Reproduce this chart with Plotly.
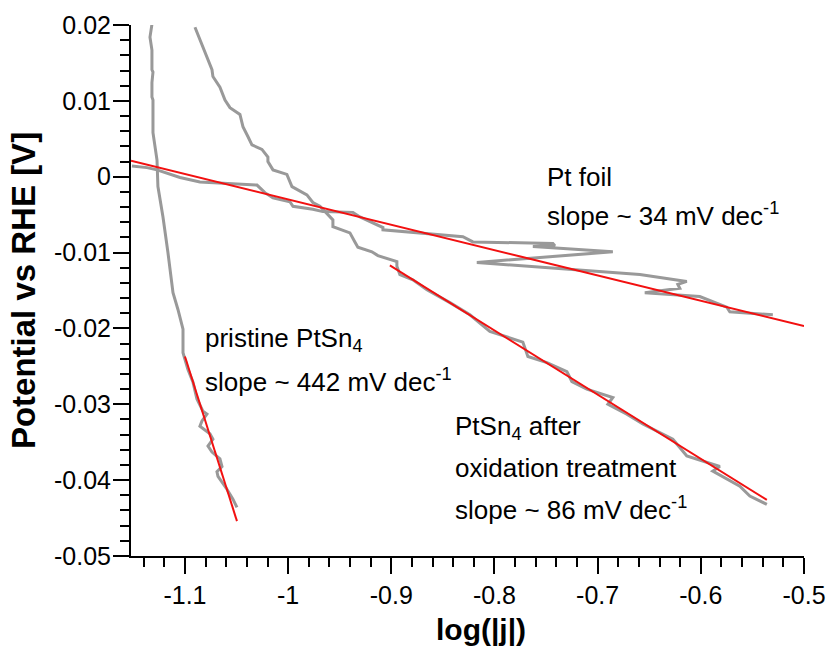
import plotly.graph_objects as go

# ---- data ----
pristine_x = [-1.1320, -1.1339, -1.1320, -1.1320, -1.1310, -1.1320, -1.1320, -1.1310, -1.1310, -1.1271,
              -1.1262, -1.1213, -1.1165, -1.1116, -1.1068, -1.1019, -1.1019, -1.0971, -1.0922, -1.0884,
              -1.0826, -1.0787, -1.0835, -1.0855, -1.0758, -1.0729, -1.0777, -1.0738, -1.0661, -1.0641,
              -1.0690, -1.0680, -1.0593, -1.0535, -1.0496]
pristine_y = [0.0201, 0.0184, 0.0167, 0.0141, 0.0138, 0.0124, 0.0105, 0.0101, 0.0058, 0.0022,
              -0.0013, -0.0053, -0.0100, -0.0153, -0.0175, -0.0201, -0.0232, -0.0254, -0.0271, -0.0293,
              -0.0309, -0.0313, -0.0322, -0.0329, -0.0339, -0.0346, -0.0355, -0.0363, -0.0372, -0.0382,
              -0.0389, -0.0395, -0.0412, -0.0425, -0.0436]

ptfoil_x = [-1.1514, -1.1368, -1.1271, -1.1048, -1.0855, -1.0302, -1.0225, -1.0147, -0.9983, -0.9953,
            -0.9760, -0.9663, -0.9372, -0.9304, -0.9081, -0.9081, -0.8306, -0.8209, -0.7434, -0.7415,
            -0.7628, -0.6853, -0.8171, -0.7395, -0.6591, -0.6136, -0.6223, -0.6204, -0.6543, -0.6010,
            -0.5748, -0.5719, -0.5302]
ptfoil_y = [0.0014, 0.0012, 0.0009, -0.0001, -0.0007, -0.0011, -0.0021, -0.0028, -0.0033, -0.0039,
            -0.0043, -0.0046, -0.0047, -0.0053, -0.0067, -0.0070, -0.0079, -0.0086, -0.0088, -0.0091,
            -0.0092, -0.0099, -0.0113, -0.0121, -0.0129, -0.0138, -0.0142, -0.0147, -0.0153, -0.0158,
            -0.0172, -0.0178, -0.0182]

oxid_x = [-1.0903, -1.0874, -1.0826, -1.0787, -1.0738, -1.0729, -1.0661, -1.0612, -1.0564, -1.0467,
          -1.0438, -1.0390, -1.0351, -1.0254, -1.0196, -1.0196, -1.0147, -1.0012, -0.9963, -0.9818,
          -0.9760, -0.9692, -0.9566, -0.9566, -0.9401, -0.9353, -0.9324, -0.9188, -0.9130, -0.8946,
          -0.8946, -0.8917, -0.8791, -0.8655, -0.8432, -0.8238, -0.8045, -0.7725, -0.7676, -0.7492,
          -0.7298, -0.7250, -0.7105, -0.6853, -0.6901, -0.6717, -0.6562, -0.6271, -0.6136, -0.5816,
          -0.5884, -0.5622, -0.5525, -0.5360]
oxid_y = [0.0197, 0.0187, 0.0171, 0.0158, 0.0141, 0.0132, 0.0118, 0.0101, 0.0091, 0.0082,
          0.0066, 0.0053, 0.0042, 0.0036, 0.0026, 0.0020, 0.0009, 0.0003, -0.0013, -0.0024,
          -0.0034, -0.0039, -0.0057, -0.0066, -0.0074, -0.0086, -0.0093, -0.0099, -0.0104, -0.0112,
          -0.0118, -0.0129, -0.0136, -0.0149, -0.0166, -0.0182, -0.0204, -0.0218, -0.0237, -0.0245,
          -0.0257, -0.0270, -0.0280, -0.0291, -0.0300, -0.0313, -0.0326, -0.0346, -0.0368, -0.0382,
          -0.0388, -0.0408, -0.0421, -0.0432]

fit_pt_x = [-1.1523, -0.5]
fit_pt_y = [0.0021, -0.0197]
fit_ox_x = [-0.9014, -0.536]
fit_ox_y = [-0.0117, -0.0426]
fit_pr_x = [-1.100, -1.0496]
fit_pr_y = [-0.0237, -0.0454]

x_tickvals = [-1.1, -1.0, -0.9, -0.8, -0.7, -0.6, -0.5]
x_ticktext = ["-1.1", "-1", "-0.9", "-0.8", "-0.7", "-0.6", "-0.5"]
y_tickvals = [0.02, 0.01, 0.0, -0.01, -0.02, -0.03, -0.04, -0.05]
y_ticktext = ["0.02", "0.01", "0", "-0.01", "-0.02", "-0.03", "-0.04", "-0.05"]

labels = [
    ("Pt foil", -0.7512, -0.0001),
    ("slope ~ 34 mV dec<sup>-1</sup>", -0.7512, -0.0050),
    ("pristine PtSn<sub>4</sub>", -1.0826, -0.0215),
    ("slope ~ 442 mV dec<sup>-1</sup>", -1.0826, -0.0268),
    ("PtSn<sub>4</sub> after", -0.8403, -0.0330),
    ("oxidation treatment", -0.8403, -0.0384),
    ("slope ~ 86 mV dec<sup>-1</sup>", -0.8403, -0.0437),
]

GRAY = "#999999"
RED = "#f21010"
FONT = "Liberation Sans, Arial"

fig = go.Figure()
for xs, ys in [(pristine_x, pristine_y), (ptfoil_x, ptfoil_y), (oxid_x, oxid_y)]:
    fig.add_trace(go.Scatter(x=xs, y=ys, mode="lines",
                             line=dict(color=GRAY, width=3), showlegend=False))
for xs, ys in [(fit_pt_x, fit_pt_y), (fit_ox_x, fit_ox_y), (fit_pr_x, fit_pr_y)]:
    fig.add_trace(go.Scatter(x=xs, y=ys, mode="lines",
                             line=dict(color=RED, width=2), showlegend=False))

for txt, lx, ly in labels:
    fig.add_annotation(x=lx, y=ly, xref="x", yref="y", text=txt, showarrow=False,
                       xanchor="left", yanchor="middle",
                       font=dict(family=FONT, size=26, color="black"))

# x-axis title (placed as paper annotation to match its offset in the reference)
fig.add_annotation(x=0.52, y=-0.139, xref="paper", yref="paper", text="<b>log(|j|)</b>",
                   showarrow=False, xanchor="center", yanchor="middle",
                   font=dict(family=FONT, size=30, color="black"))

axis_common = dict(showline=True, linecolor="black", linewidth=2, showgrid=False,
                   zeroline=False, ticks="outside", ticklen=16, tickwidth=2,
                   tickcolor="black", mirror=False, automargin=False,
                   tickfont=dict(family=FONT, size=25, color="black"))

fig.update_xaxes(range=[-1.1523, -0.5], tickmode="array", tickvals=x_tickvals,
                 ticktext=x_ticktext,
                 minor=dict(tickmode="linear", tick0=0, dtick=0.02, ticks="outside",
                            ticklen=9, tickwidth=2, tickcolor="black"),
                 **axis_common)
fig.update_yaxes(range=[-0.05, 0.02], tickmode="array", tickvals=y_tickvals,
                 ticktext=y_ticktext, ticklabelstandoff=-3,
                 minor=dict(tickmode="linear", tick0=0, dtick=0.002, ticks="outside",
                            ticklen=9, tickwidth=2, tickcolor="black"),
                 title=dict(text="<b>Potential vs RHE [V]</b>", standoff=8,
                            font=dict(family=FONT, size=33, color="black")),
                 **axis_common)

fig.update_layout(width=830, height=650, margin=dict(l=131, r=26, t=25, b=94),
                  plot_bgcolor="white", paper_bgcolor="white", hovermode=False)

# remove the default page margin so the figure fills the 830x650 window exactly
fig.write_html("out.html", config={"displayModeBar": False},
               post_script="document.body.style.margin='0';document.body.style.overflow='hidden';")
